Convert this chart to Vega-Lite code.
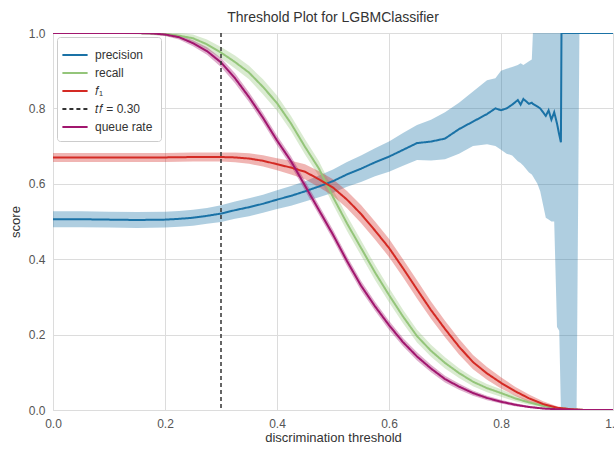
{
  "$schema": "https://vega.github.io/schema/vega-lite/v6.json",
  "width": 560,
  "height": 377,
  "autosize": {"type": "none"},
  "padding": {"left": 53, "top": 33, "right": 1, "bottom": 39},
  "background": "white",
  "title": {"text": "Threshold Plot for LGBMClassifier", "fontSize": 14, "fontWeight": "normal", "color": "#333333", "offset": 2},
  "config": {
    "font": "Liberation Sans",
    "view": {"stroke": "#d9d9d9"},
    "axis": {"grid": true, "gridColor": "#dcdcdc", "domain": false, "ticks": false, "labelFlush": false, "labelColor": "#555555", "labelFontSize": 12, "titleFontSize": 13, "titleFontWeight": "normal", "titleColor": "#333333"}
  },
  "datasets": {
    "curves": [
      {"s": "precision", "t": 0, "v": 0.506, "lo": 0.485, "hi": 0.527},
      {"s": "precision", "t": 0.05, "v": 0.506, "lo": 0.485, "hi": 0.527},
      {"s": "precision", "t": 0.1, "v": 0.505, "lo": 0.484, "hi": 0.526},
      {"s": "precision", "t": 0.15, "v": 0.504, "lo": 0.483, "hi": 0.525},
      {"s": "precision", "t": 0.2, "v": 0.505, "lo": 0.484, "hi": 0.526},
      {"s": "precision", "t": 0.225, "v": 0.507, "lo": 0.486, "hi": 0.528},
      {"s": "precision", "t": 0.25, "v": 0.51, "lo": 0.489, "hi": 0.531},
      {"s": "precision", "t": 0.275, "v": 0.515, "lo": 0.494, "hi": 0.536},
      {"s": "precision", "t": 0.3, "v": 0.521, "lo": 0.499, "hi": 0.543},
      {"s": "precision", "t": 0.325, "v": 0.53, "lo": 0.507, "hi": 0.553},
      {"s": "precision", "t": 0.35, "v": 0.538, "lo": 0.514, "hi": 0.562},
      {"s": "precision", "t": 0.375, "v": 0.547, "lo": 0.523, "hi": 0.571},
      {"s": "precision", "t": 0.4, "v": 0.558, "lo": 0.533, "hi": 0.583},
      {"s": "precision", "t": 0.425, "v": 0.568, "lo": 0.542, "hi": 0.594},
      {"s": "precision", "t": 0.45, "v": 0.58, "lo": 0.553, "hi": 0.607},
      {"s": "precision", "t": 0.475, "v": 0.593, "lo": 0.564, "hi": 0.622},
      {"s": "precision", "t": 0.5, "v": 0.607, "lo": 0.576, "hi": 0.638},
      {"s": "precision", "t": 0.525, "v": 0.625, "lo": 0.592, "hi": 0.658},
      {"s": "precision", "t": 0.55, "v": 0.64, "lo": 0.605, "hi": 0.675},
      {"s": "precision", "t": 0.575, "v": 0.657, "lo": 0.62, "hi": 0.694},
      {"s": "precision", "t": 0.6, "v": 0.672, "lo": 0.632, "hi": 0.712},
      {"s": "precision", "t": 0.625, "v": 0.69, "lo": 0.648, "hi": 0.735},
      {"s": "precision", "t": 0.65, "v": 0.708, "lo": 0.663, "hi": 0.756},
      {"s": "precision", "t": 0.675, "v": 0.712, "lo": 0.662, "hi": 0.77},
      {"s": "precision", "t": 0.7, "v": 0.72, "lo": 0.665, "hi": 0.79},
      {"s": "precision", "t": 0.725, "v": 0.745, "lo": 0.68, "hi": 0.815},
      {"s": "precision", "t": 0.75, "v": 0.765, "lo": 0.7, "hi": 0.845},
      {"s": "precision", "t": 0.775, "v": 0.785, "lo": 0.705, "hi": 0.875},
      {"s": "precision", "t": 0.79, "v": 0.8, "lo": 0.7, "hi": 0.88},
      {"s": "precision", "t": 0.8, "v": 0.795, "lo": 0.69, "hi": 0.9},
      {"s": "precision", "t": 0.81, "v": 0.8, "lo": 0.68, "hi": 0.905},
      {"s": "precision", "t": 0.82, "v": 0.81, "lo": 0.675, "hi": 0.91},
      {"s": "precision", "t": 0.83, "v": 0.822, "lo": 0.66, "hi": 0.915},
      {"s": "precision", "t": 0.835, "v": 0.81, "lo": 0.655, "hi": 0.92},
      {"s": "precision", "t": 0.84, "v": 0.825, "lo": 0.648, "hi": 0.915},
      {"s": "precision", "t": 0.85, "v": 0.812, "lo": 0.63, "hi": 0.925},
      {"s": "precision", "t": 0.855, "v": 0.815, "lo": 0.625, "hi": 0.93},
      {"s": "precision", "t": 0.857, "v": 0.812, "lo": 0.62, "hi": 1.0},
      {"s": "precision", "t": 0.865, "v": 0.805, "lo": 0.6, "hi": 1.0},
      {"s": "precision", "t": 0.87, "v": 0.8, "lo": 0.58, "hi": 1.0},
      {"s": "precision", "t": 0.875, "v": 0.79, "lo": 0.545, "hi": 1.0},
      {"s": "precision", "t": 0.88, "v": 0.78, "lo": 0.51, "hi": 1.0},
      {"s": "precision", "t": 0.885, "v": 0.795, "lo": 0.505, "hi": 1.0},
      {"s": "precision", "t": 0.89, "v": 0.77, "lo": 0.5, "hi": 1.0},
      {"s": "precision", "t": 0.895, "v": 0.79, "lo": 0.5, "hi": 1.0},
      {"s": "precision", "t": 0.9, "v": 0.76, "lo": 0.22, "hi": 1.0},
      {"s": "precision", "t": 0.904, "v": 0.73, "lo": 0.21, "hi": 1.0},
      {"s": "precision", "t": 0.907, "v": 0.71, "lo": 0.0, "hi": 1.0},
      {"s": "precision", "t": 0.908, "v": 1.0, "lo": 0.0, "hi": 1.0},
      {"s": "precision", "t": 0.935, "v": 1.0, "lo": 0.0, "hi": 1.0},
      {"s": "precision", "t": 0.94, "v": 1.0, "lo": 1.0, "hi": 1.0},
      {"s": "precision", "t": 1.0, "v": 1.0, "lo": 1.0, "hi": 1.0},

      {"s": "recall", "t": 0, "v": 1.0, "lo": 0.998, "hi": 1.0},
      {"s": "recall", "t": 0.05, "v": 1.0, "lo": 0.998, "hi": 1.0},
      {"s": "recall", "t": 0.1, "v": 1.0, "lo": 0.998, "hi": 1.0},
      {"s": "recall", "t": 0.15, "v": 1.0, "lo": 0.997, "hi": 1.0},
      {"s": "recall", "t": 0.175, "v": 0.999, "lo": 0.995, "hi": 1.0},
      {"s": "recall", "t": 0.2, "v": 0.997, "lo": 0.992, "hi": 1.0},
      {"s": "recall", "t": 0.225, "v": 0.993, "lo": 0.986, "hi": 1.0},
      {"s": "recall", "t": 0.25, "v": 0.986, "lo": 0.976, "hi": 0.996},
      {"s": "recall", "t": 0.275, "v": 0.97, "lo": 0.957, "hi": 0.983},
      {"s": "recall", "t": 0.3, "v": 0.948, "lo": 0.933, "hi": 0.963},
      {"s": "recall", "t": 0.325, "v": 0.923, "lo": 0.906, "hi": 0.94},
      {"s": "recall", "t": 0.35, "v": 0.895, "lo": 0.877, "hi": 0.913},
      {"s": "recall", "t": 0.375, "v": 0.857, "lo": 0.837, "hi": 0.877},
      {"s": "recall", "t": 0.4, "v": 0.814, "lo": 0.794, "hi": 0.834},
      {"s": "recall", "t": 0.425, "v": 0.76, "lo": 0.74, "hi": 0.78},
      {"s": "recall", "t": 0.45, "v": 0.698, "lo": 0.678, "hi": 0.718},
      {"s": "recall", "t": 0.475, "v": 0.64, "lo": 0.62, "hi": 0.66},
      {"s": "recall", "t": 0.5, "v": 0.565, "lo": 0.545, "hi": 0.585},
      {"s": "recall", "t": 0.525, "v": 0.495, "lo": 0.475, "hi": 0.515},
      {"s": "recall", "t": 0.55, "v": 0.43, "lo": 0.41, "hi": 0.45},
      {"s": "recall", "t": 0.575, "v": 0.365, "lo": 0.345, "hi": 0.385},
      {"s": "recall", "t": 0.6, "v": 0.305, "lo": 0.286, "hi": 0.324},
      {"s": "recall", "t": 0.625, "v": 0.248, "lo": 0.23, "hi": 0.266},
      {"s": "recall", "t": 0.65, "v": 0.196, "lo": 0.179, "hi": 0.213},
      {"s": "recall", "t": 0.675, "v": 0.157, "lo": 0.141, "hi": 0.173},
      {"s": "recall", "t": 0.7, "v": 0.125, "lo": 0.11, "hi": 0.14},
      {"s": "recall", "t": 0.725, "v": 0.098, "lo": 0.085, "hi": 0.111},
      {"s": "recall", "t": 0.75, "v": 0.075, "lo": 0.063, "hi": 0.087},
      {"s": "recall", "t": 0.775, "v": 0.058, "lo": 0.047, "hi": 0.069},
      {"s": "recall", "t": 0.8, "v": 0.045, "lo": 0.035, "hi": 0.055},
      {"s": "recall", "t": 0.825, "v": 0.031, "lo": 0.023, "hi": 0.039},
      {"s": "recall", "t": 0.85, "v": 0.02, "lo": 0.014, "hi": 0.026},
      {"s": "recall", "t": 0.875, "v": 0.011, "lo": 0.007, "hi": 0.015},
      {"s": "recall", "t": 0.9, "v": 0.005, "lo": 0.002, "hi": 0.008},
      {"s": "recall", "t": 0.925, "v": 0.002, "lo": 0.001, "hi": 0.003},
      {"s": "recall", "t": 0.95, "v": 0.0, "lo": 0.0, "hi": 0.0},
      {"s": "recall", "t": 1.0, "v": 0.0, "lo": 0.0, "hi": 0.0},

      {"s": "𝑓₁", "t": 0, "v": 0.67, "lo": 0.658, "hi": 0.682},
      {"s": "𝑓₁", "t": 0.05, "v": 0.67, "lo": 0.658, "hi": 0.682},
      {"s": "𝑓₁", "t": 0.1, "v": 0.67, "lo": 0.658, "hi": 0.682},
      {"s": "𝑓₁", "t": 0.15, "v": 0.67, "lo": 0.658, "hi": 0.682},
      {"s": "𝑓₁", "t": 0.2, "v": 0.67, "lo": 0.658, "hi": 0.682},
      {"s": "𝑓₁", "t": 0.25, "v": 0.671, "lo": 0.659, "hi": 0.683},
      {"s": "𝑓₁", "t": 0.3, "v": 0.671, "lo": 0.659, "hi": 0.683},
      {"s": "𝑓₁", "t": 0.325, "v": 0.67, "lo": 0.657, "hi": 0.683},
      {"s": "𝑓₁", "t": 0.35, "v": 0.667, "lo": 0.653, "hi": 0.681},
      {"s": "𝑓₁", "t": 0.375, "v": 0.661, "lo": 0.646, "hi": 0.676},
      {"s": "𝑓₁", "t": 0.4, "v": 0.652, "lo": 0.636, "hi": 0.668},
      {"s": "𝑓₁", "t": 0.425, "v": 0.643, "lo": 0.625, "hi": 0.661},
      {"s": "𝑓₁", "t": 0.45, "v": 0.632, "lo": 0.612, "hi": 0.652},
      {"s": "𝑓₁", "t": 0.475, "v": 0.612, "lo": 0.591, "hi": 0.633},
      {"s": "𝑓₁", "t": 0.5, "v": 0.59, "lo": 0.568, "hi": 0.612},
      {"s": "𝑓₁", "t": 0.525, "v": 0.558, "lo": 0.535, "hi": 0.581},
      {"s": "𝑓₁", "t": 0.55, "v": 0.52, "lo": 0.496, "hi": 0.544},
      {"s": "𝑓₁", "t": 0.575, "v": 0.476, "lo": 0.452, "hi": 0.5},
      {"s": "𝑓₁", "t": 0.6, "v": 0.43, "lo": 0.406, "hi": 0.454},
      {"s": "𝑓₁", "t": 0.625, "v": 0.376, "lo": 0.352, "hi": 0.4},
      {"s": "𝑓₁", "t": 0.65, "v": 0.32, "lo": 0.296, "hi": 0.344},
      {"s": "𝑓₁", "t": 0.675, "v": 0.265, "lo": 0.242, "hi": 0.288},
      {"s": "𝑓₁", "t": 0.7, "v": 0.215, "lo": 0.193, "hi": 0.237},
      {"s": "𝑓₁", "t": 0.725, "v": 0.168, "lo": 0.147, "hi": 0.189},
      {"s": "𝑓₁", "t": 0.75, "v": 0.127, "lo": 0.108, "hi": 0.146},
      {"s": "𝑓₁", "t": 0.775, "v": 0.097, "lo": 0.08, "hi": 0.114},
      {"s": "𝑓₁", "t": 0.8, "v": 0.072, "lo": 0.057, "hi": 0.087},
      {"s": "𝑓₁", "t": 0.825, "v": 0.05, "lo": 0.038, "hi": 0.062},
      {"s": "𝑓₁", "t": 0.85, "v": 0.031, "lo": 0.021, "hi": 0.041},
      {"s": "𝑓₁", "t": 0.875, "v": 0.016, "lo": 0.009, "hi": 0.023},
      {"s": "𝑓₁", "t": 0.9, "v": 0.006, "lo": 0.002, "hi": 0.01},
      {"s": "𝑓₁", "t": 0.925, "v": 0.002, "lo": 0.001, "hi": 0.003},
      {"s": "𝑓₁", "t": 0.95, "v": 0.0, "lo": 0.0, "hi": 0.0},
      {"s": "𝑓₁", "t": 1.0, "v": 0.0, "lo": 0.0, "hi": 0.0},

      {"s": "queue rate", "t": 0, "v": 1.0, "lo": 0.999, "hi": 1.0},
      {"s": "queue rate", "t": 0.05, "v": 1.0, "lo": 0.999, "hi": 1.0},
      {"s": "queue rate", "t": 0.1, "v": 1.0, "lo": 0.999, "hi": 1.0},
      {"s": "queue rate", "t": 0.15, "v": 1.0, "lo": 0.998, "hi": 1.0},
      {"s": "queue rate", "t": 0.175, "v": 0.999, "lo": 0.996, "hi": 1.0},
      {"s": "queue rate", "t": 0.2, "v": 0.996, "lo": 0.992, "hi": 1.0},
      {"s": "queue rate", "t": 0.225, "v": 0.989, "lo": 0.983, "hi": 0.995},
      {"s": "queue rate", "t": 0.25, "v": 0.973, "lo": 0.965, "hi": 0.981},
      {"s": "queue rate", "t": 0.275, "v": 0.952, "lo": 0.942, "hi": 0.962},
      {"s": "queue rate", "t": 0.3, "v": 0.922, "lo": 0.91, "hi": 0.934},
      {"s": "queue rate", "t": 0.325, "v": 0.88, "lo": 0.867, "hi": 0.893},
      {"s": "queue rate", "t": 0.35, "v": 0.83, "lo": 0.817, "hi": 0.843},
      {"s": "queue rate", "t": 0.375, "v": 0.775, "lo": 0.762, "hi": 0.788},
      {"s": "queue rate", "t": 0.4, "v": 0.715, "lo": 0.702, "hi": 0.728},
      {"s": "queue rate", "t": 0.425, "v": 0.66, "lo": 0.647, "hi": 0.673},
      {"s": "queue rate", "t": 0.45, "v": 0.595, "lo": 0.582, "hi": 0.608},
      {"s": "queue rate", "t": 0.475, "v": 0.53, "lo": 0.517, "hi": 0.543},
      {"s": "queue rate", "t": 0.5, "v": 0.465, "lo": 0.452, "hi": 0.478},
      {"s": "queue rate", "t": 0.525, "v": 0.395, "lo": 0.382, "hi": 0.408},
      {"s": "queue rate", "t": 0.55, "v": 0.33, "lo": 0.317, "hi": 0.343},
      {"s": "queue rate", "t": 0.575, "v": 0.275, "lo": 0.263, "hi": 0.287},
      {"s": "queue rate", "t": 0.6, "v": 0.225, "lo": 0.213, "hi": 0.237},
      {"s": "queue rate", "t": 0.625, "v": 0.18, "lo": 0.169, "hi": 0.191},
      {"s": "queue rate", "t": 0.65, "v": 0.142, "lo": 0.131, "hi": 0.153},
      {"s": "queue rate", "t": 0.675, "v": 0.11, "lo": 0.1, "hi": 0.12},
      {"s": "queue rate", "t": 0.7, "v": 0.082, "lo": 0.073, "hi": 0.091},
      {"s": "queue rate", "t": 0.725, "v": 0.062, "lo": 0.054, "hi": 0.07},
      {"s": "queue rate", "t": 0.75, "v": 0.045, "lo": 0.038, "hi": 0.052},
      {"s": "queue rate", "t": 0.775, "v": 0.032, "lo": 0.026, "hi": 0.038},
      {"s": "queue rate", "t": 0.8, "v": 0.022, "lo": 0.017, "hi": 0.027},
      {"s": "queue rate", "t": 0.825, "v": 0.014, "lo": 0.01, "hi": 0.018},
      {"s": "queue rate", "t": 0.85, "v": 0.008, "lo": 0.005, "hi": 0.011},
      {"s": "queue rate", "t": 0.875, "v": 0.004, "lo": 0.002, "hi": 0.006},
      {"s": "queue rate", "t": 0.9, "v": 0.002, "lo": 0.001, "hi": 0.003},
      {"s": "queue rate", "t": 0.925, "v": 0.001, "lo": 0.0, "hi": 0.002},
      {"s": "queue rate", "t": 0.95, "v": 0.0, "lo": 0.0, "hi": 0.0},
      {"s": "queue rate", "t": 1.0, "v": 0.0, "lo": 0.0, "hi": 0.0}
    ],
    "threshold": [
      {"s": "𝑡𝑓 = 0.30", "t": 0.3}
    ]
  },
  "layer": [
    {
      "data": {"name": "curves"},
      "mark": {"type": "area", "fillOpacity": 0.35, "clip": true},
      "encoding": {
        "x": {"field": "t", "type": "quantitative", "scale": {"domain": [0, 1], "nice": false}, "axis": {"title": "discrimination threshold", "values": [0, 0.2, 0.4, 0.6, 0.8, 1.0], "format": ".1f", "labelPadding": 8, "titlePadding": 2}},
        "y": {"field": "lo", "type": "quantitative", "scale": {"domain": [0, 1], "nice": false}, "axis": {"title": "score", "values": [0, 0.2, 0.4, 0.6, 0.8, 1.0], "format": ".1f", "labelPadding": 8, "titlePadding": 6}},
        "y2": {"field": "hi"},
        "fill": {"field": "s", "type": "nominal", "scale": {"domain": ["precision", "recall", "𝑓₁", "queue rate"], "range": ["#1a72a6", "#94c57a", "#d42a24", "#a1166e"]}, "legend": null}
      }
    },
    {
      "data": {"name": "curves"},
      "mark": {"type": "line", "strokeWidth": 2, "clip": true},
      "encoding": {
        "x": {"field": "t", "type": "quantitative"},
        "y": {"field": "v", "type": "quantitative"},
        "color": {"field": "s", "type": "nominal", "scale": {"domain": ["precision", "recall", "𝑓₁", "𝑡𝑓 = 0.30", "queue rate"], "range": ["#1a72a6", "#94c57a", "#d42a24", "#333333", "#a1166e"]},
          "legend": {"title": null, "orient": "top-left", "offset": 4, "fillColor": "white", "strokeColor": "#cccccc", "cornerRadius": 3, "padding": 8, "symbolType": "M-1.4,0H1.4", "symbolSize": 324, "symbolStrokeWidth": 2, "labelFontSize": 12, "labelColor": "#333333", "labelOffset": 10, "rowPadding": 2}},
        "strokeDash": {"field": "s", "type": "nominal", "scale": {"domain": ["precision", "recall", "𝑓₁", "𝑡𝑓 = 0.30", "queue rate"], "range": [[1, 0], [1, 0], [1, 0], [4, 3], [1, 0]]}}
      }
    },
    {
      "data": {"name": "threshold"},
      "mark": {"type": "rule", "strokeWidth": 1.5},
      "encoding": {
        "x": {"field": "t", "type": "quantitative"},
        "color": {"field": "s", "type": "nominal"},
        "strokeDash": {"field": "s", "type": "nominal"}
      }
    }
  ]
}
